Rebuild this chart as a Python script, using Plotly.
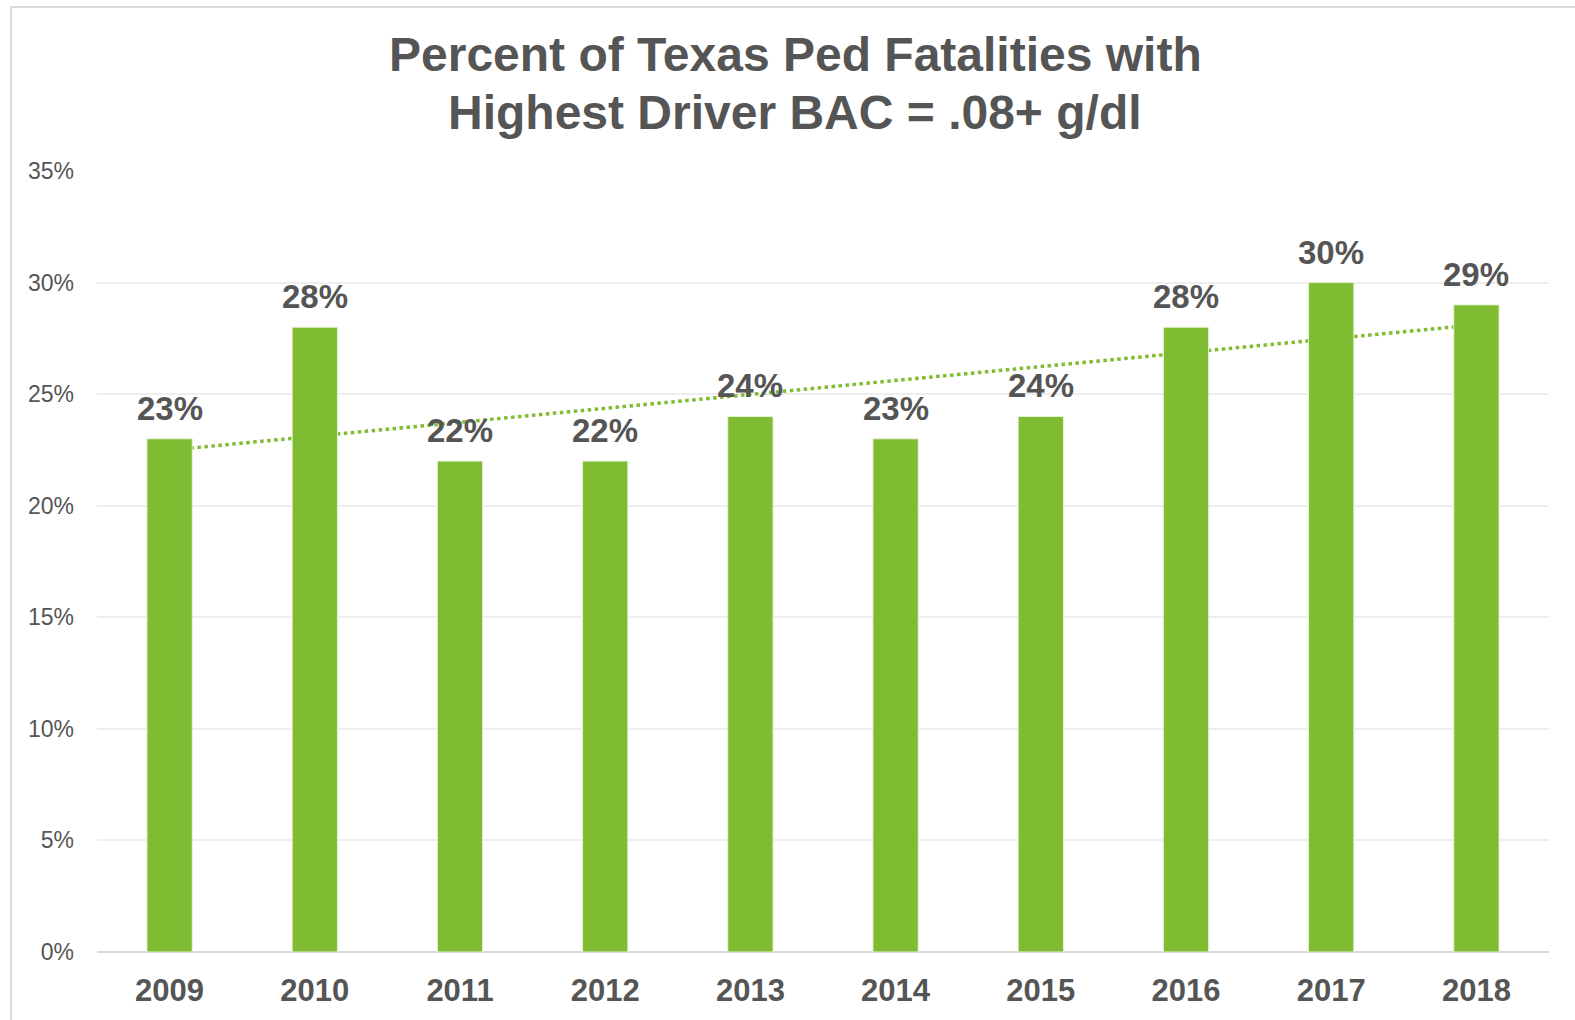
"""Percent of Texas pedestrian fatalities with highest driver BAC .08+."""
import numpy as np
import plotly.graph_objects as go

YEARS = ["2009", "2010", "2011", "2012", "2013", "2014", "2015", "2016", "2017", "2018"]
PCT = [23, 28, 22, 22, 24, 23, 24, 28, 30, 29]
Y_TICKS = [0, 5, 10, 15, 20, 25, 30, 35]
TITLE_LINES = ["Percent of Texas Ped Fatalities with", "Highest Driver BAC = .08+ g/dl"]

GREEN = "#80BC31"
TEXT = "#555555"
FONT = "Liberation Sans, Arial, sans-serif"

# linear trendline fitted to the bars (Excel-style)
idx = np.arange(len(PCT))
slope, intercept = np.polyfit(idx, PCT, 1)
trend = intercept + slope * idx

# plot area in pixels
L, R, T, B = 97, 26, 171, 66
W, H = 1575, 1020
PW, PH = W - L - R, H - T - B


def px_y(y):
    """Pixel row -> paper y."""
    return (H - B - y) / PH


def px_x(x):
    """Pixel column -> paper x."""
    return (x - L) / PW


fig = go.Figure()
fig.add_trace(go.Scatter(
    x=YEARS, y=trend, mode="lines",
    line=dict(color=GREEN, width=3.5, dash="dot"),
    hoverinfo="skip", zorder=0,
))
fig.add_trace(go.Bar(
    x=YEARS, y=PCT,
    marker=dict(color=GREEN, line=dict(color="#E6F2D6", width=1)),
    zorder=1,
))

# value labels; on a category axis annotations take the category index
for i, v in enumerate(PCT):
    fig.add_annotation(
        x=i, y=v, text=f"{v}%", showarrow=False,
        yanchor="bottom", yshift=10,
        font=dict(family=FONT, size=33, color=TEXT, weight="bold"),
    )

# two-line title, placed line by line
for line, ypx in zip(TITLE_LINES, [54.5, 112.5]):
    fig.add_annotation(
        xref="paper", yref="paper", x=px_x(795), y=px_y(ypx),
        text=line, showarrow=False, xanchor="center", yanchor="middle",
        font=dict(family=FONT, size=48, color=TEXT, weight="bold"),
    )

# outer chart border (open on right/bottom, as cropped)
fig.add_shape(
    type="rect", xref="paper", yref="paper",
    x0=px_x(11), x1=1.2, y0=-0.3, y1=px_y(6.5),
    line=dict(color="#D9D9D9", width=2), layer="below",
)

fig.update_layout(
    width=W, height=H,
    margin=dict(l=L, r=R, t=T, b=B),
    paper_bgcolor="white", plot_bgcolor="white",
    showlegend=False,
    bargap=0.688,
)
fig.update_xaxes(
    type="category",
    showgrid=False, showline=False, ticks="",
    tickfont=dict(family=FONT, size=31, color=TEXT, weight="bold"),
    ticklabelstandoff=17,
)
fig.update_yaxes(
    range=[0, 35], tickvals=Y_TICKS, ticktext=[f"{t}%" for t in Y_TICKS],
    showgrid=True, gridcolor="#EEEEEE", gridwidth=1.5,
    zeroline=True, zerolinecolor="#D9D9D9", zerolinewidth=2,
    tickfont=dict(family=FONT, size=23, color=TEXT),
    ticklabelstandoff=22,
)

fig.write_html(
    "out.html",
    config={"displayModeBar": False},
    post_script="document.body.style.margin='0';",
)
